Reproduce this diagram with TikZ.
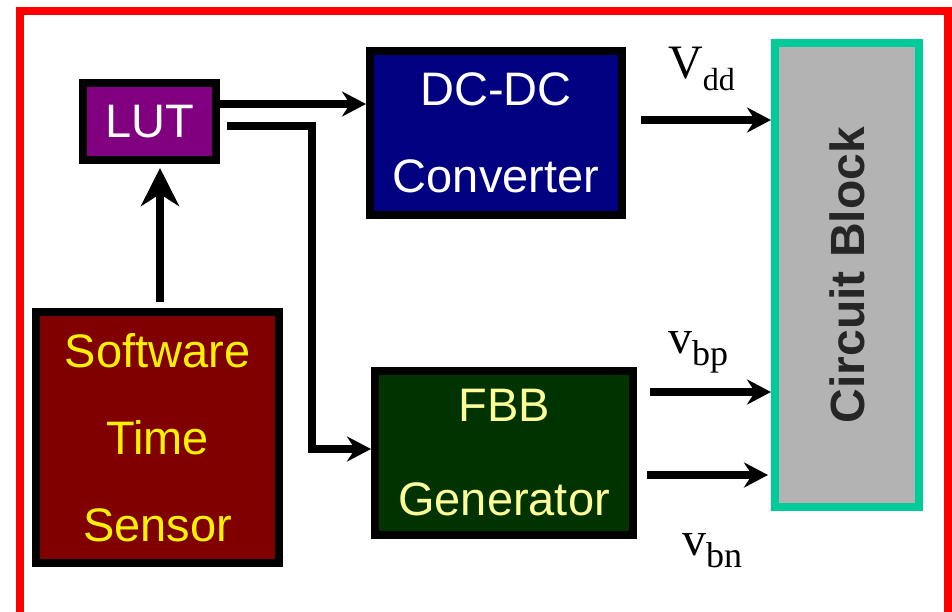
\documentclass[tikz,border=0pt]{standalone}
\usepackage{fontspec}
\setmainfont{Liberation Sans}
\newfontfamily\serifface{Liberation Serif}
\usepackage{xcolor}
\usetikzlibrary{arrows.meta,positioning}
\definecolor{framered}{HTML}{FF0000}
\definecolor{lutpurple}{HTML}{800080}
\definecolor{dcblue}{HTML}{000080}
\definecolor{fbbgreen}{HTML}{003300}
\definecolor{fbbyellow}{HTML}{FFFF99}
\definecolor{sensorred}{HTML}{800000}
\definecolor{circgray}{HTML}{B3B3B3}
\definecolor{circteal}{HTML}{00CC99}
\definecolor{circtext}{HTML}{262626}
\newcommand{\sublbl}[2][36]{{\fontsize{#1}{#1}\selectfont\raisebox{-12pt}{#2}}}
\tikzset{
  unitblock/.style={draw=black,line width=8pt,rectangle,inner sep=0pt,
    align=center,font=\fontsize{47}{87}\selectfont},
  flowarrow/.style={-{Stealth[length=24pt,width=25pt,inset=8pt]},line width=8pt,
    draw=black,line join=miter},
  bigarrow/.style={-{Stealth[length=38pt,width=38pt,inset=12pt]},line width=8pt,draw=black},
  siglabel/.style={anchor=base west,inner sep=0pt,font=\serifface\fontsize{48}{48}\selectfont}
}

\begin{document}
\begin{tikzpicture}[x=1pt,y=-1pt]
\useasboundingbox (0,0) rectangle (952,611);
\clip (0,0) rectangle (952,611);
\draw[draw=framered,line width=8pt] (20,640) -- (20,11) -- (947.5,11) -- (947.5,640);

% blocks
\node[unitblock,fill=lutpurple,text=white,minimum width=133pt,minimum height=77pt] (lut) at (149.5,121.5) {LUT};
\node[unitblock,fill=dcblue,text=white,minimum width=252pt,minimum height=164pt] (dcdc) at (496,133) {DC-DC\\Converter};
\node[unitblock,fill=fbbgreen,text=fbbyellow,minimum width=258pt,minimum height=164pt,
  font=\fontsize{47}{94}\selectfont] (fbb) at (504,453) {FBB\\Generator};
\node[unitblock,fill=sensorred,text=yellow,minimum width=243pt,minimum height=251pt] (sensor) at (157.5,437.5) {Software\\Time\\Sensor};
\node[unitblock,draw=circteal,fill=circgray,text=circtext,minimum width=144pt,minimum height=464pt,
  font=\bfseries\fontsize{48}{48}\selectfont] (circ) at (847,275) {\rotatebox{90}{Circuit Block}};

% control paths
\draw[bigarrow] ([xshift=2.5pt,yshift=6pt]sensor.north) -- ([xshift=10.5pt,yshift=-4pt]lut.south);
\draw[flowarrow] ([yshift=17.5pt]lut.east) -- ([yshift=29pt]dcdc.west);
\draw[flowarrow] ([xshift=7pt,yshift=-4.5pt]lut.east) -- ++(85,0) |- ([yshift=4pt]fbb.west);

% supply and bias lines
\coordinate (vddsrc) at (641,120);
\coordinate (vbpsrc) at (650,392);
\coordinate (vbnsrc) at (647,475);
\draw[flowarrow] (vddsrc) -- (vddsrc -| circ.west);
\draw[flowarrow] (vbpsrc) -- (vbpsrc -| circ.west);
\draw[flowarrow,shorten >=3pt] (vbnsrc) -- (vbnsrc -| circ.west);

\node[siglabel] (vddlbl) at (668,78) {V\sublbl[32]{dd}};
\node[siglabel] (vbplbl) at (668,353) {v\sublbl{bp}};
\node[siglabel] (vbnlbl) at (682,555) {v\sublbl{bn}};
\end{tikzpicture}
\end{document}
